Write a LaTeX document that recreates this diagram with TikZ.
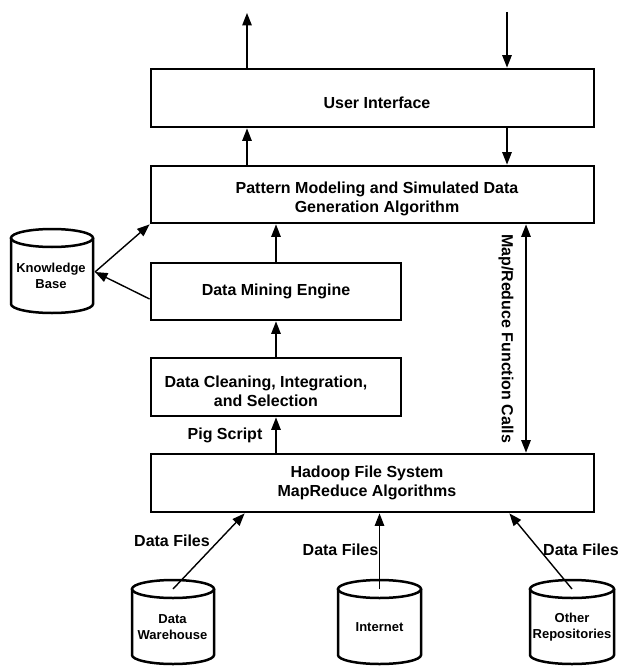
\documentclass[tikz,border=0pt]{standalone}
\usepackage{fontspec}
\setmainfont{Liberation Sans}
\usetikzlibrary{arrows.meta,calc}
\newcommand\dbshape[4]{% cx, top, bottom, rx
  \draw[cylline] (#1-#4,#2+9) -- (#1-#4,#3-9) arc[start angle=180,end angle=360,x radius=#4pt,y radius=9pt] -- (#1+#4,#2+9);
  \draw[cylline] (#1,#2+9) ellipse[x radius=#4pt,y radius=9pt];}
\begin{document}
\begin{tikzpicture}[x=1pt,y=-1pt,
  box/.style={draw, line width=2.8pt, rectangle, inner sep=0pt},
  txt/.style={font=\fontsize{16}{19.5}\selectfont\bfseries, align=center, inner sep=0pt},
  smalltxt/.style={font=\fontsize{13}{16}\selectfont\bfseries, align=center, inner sep=0pt},
  cylline/.style={line width=2.5pt},
  arr/.style={-{Triangle[length=12.5pt,width=9.5pt]}, line width=1.4pt},
  dbl/.style={{Triangle[length=12.5pt,width=9.5pt]}-{Triangle[length=12.5pt,width=9.5pt]}, line width=1.4pt}]
\useasboundingbox (0,0) rectangle (619,666);

% boxes
\node[box, minimum width=443pt, minimum height=58pt] (ui) at (372.5,98) {};
\node[box, minimum width=443pt, minimum height=57pt] (pm) at (372.5,194.5) {};
\node[box, minimum width=250pt, minimum height=57pt] (dm) at (276,291.5) {};
\node[box, minimum width=250pt, minimum height=58pt] (dc) at (276,387) {};
\node[box, minimum width=443pt, minimum height=58pt] (hd) at (372.5,483) {};

% box texts
\node[txt] (uit) at (377,103) {User Interface};
\node[txt] (pmt) at (377,199) {Pattern Modeling and Simulated Data\\Generation Algorithm};
\node[txt] (dmt) at (276,291) {Data Mining Engine};
\node[txt] (dct) at (266,391.5) {Data Cleaning, Integration,\\and Selection};
\node[txt] (hdt) at (367,483) {Hadoop File System\\MapReduce Algorithms};

% cylinders
\dbshape{52}{229}{313}{41}
\dbshape{173}{580}{664}{41}
\dbshape{379.5}{580}{664}{41.5}
\dbshape{572}{580}{664}{42}
\node[smalltxt] (kbt) at (51,276) {Knowledge\\Base};
\node[smalltxt] (dwt) at (172.5,627) {Data\\Warehouse};
\node[smalltxt] (itt) at (379.5,627) {Internet};
\node[smalltxt] (ort) at (572,627) {Other\\Repositories};
\coordinate (dwtop) at (173,589);
\coordinate (ittop) at (379.5,589);
\coordinate (ortop) at (572,589);
\coordinate (kbport) at (95,272);

% free ends
\coordinate (uiout) at (247,13);
\coordinate (uiin) at (507,12);
\coordinate (mrx) at (526,338);

% connectors
\draw[arr] (ui.north -| uiout) -- (uiout);
\draw[arr] (uiin) -- (uiin |- ui.north);
\draw[arr] (pm.north -| uiout) -- (ui.south -| uiout);
\draw[arr] (ui.south -| uiin) -- (pm.north -| uiin);
\draw[arr] (dm.north) -- (dm.north |- pm.south);
\draw[arr] (dc.north) -- (dm.south);
\draw[arr] (hd.north -| dc.north) -- (dc.south);
\draw[dbl] (pm.south -| mrx) -- (hd.north -| mrx);
\draw[arr] (kbport) -- (pm.south west);
\draw[arr] ([yshift=-7.5pt]dm.west) -- (kbport);
\draw[arr] (dwtop) -- ([xshift=95pt]hd.south west);
\draw[arr] (ittop) -- (ittop |- hd.south);
\draw[arr] (ortop) -- ([xshift=-86pt]hd.south east);

% connector labels
\node[txt] (pig) at (225,435) {Pig Script};
\node[txt, rotate=-90] (mrl) at (506,338.5) {Map/Reduce Function Calls};
\node[txt] (df1) at (172,541) {Data Files};
\node[txt] (df2) at (340.5,550) {Data Files};
\node[txt] (df3) at (581,550) {Data Files};
\end{tikzpicture}
\end{document}
